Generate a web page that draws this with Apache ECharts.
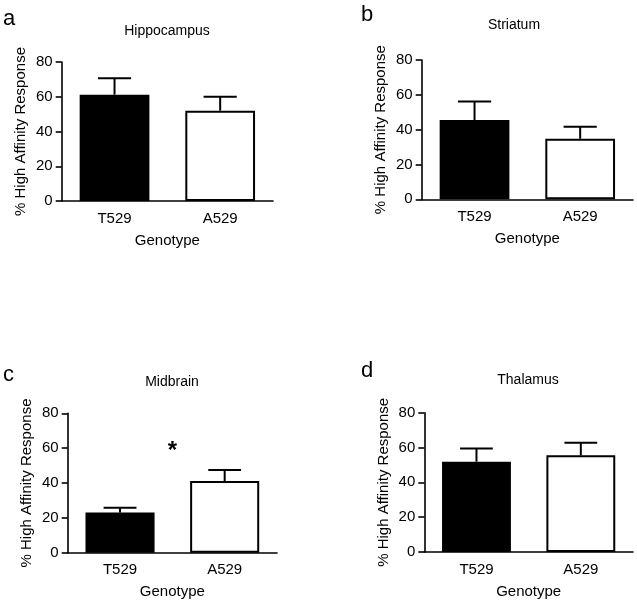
<!DOCTYPE html>
<html><head><meta charset="utf-8">
<script src="https://cdn.jsdelivr.net/npm/echarts@6/dist/echarts.min.js"></script>
<style>html,body{margin:0;padding:0;background:#fff}#c{width:637px;height:602px}</style>
</head><body><div id="c"></div>
<script>
const categories = ['T529', 'A529'];
const panelTitles = ['Hippocampus', 'Striatum', 'Midbrain', 'Thalamus'];
const panelLetters = ['a', 'b', 'c', 'd'];
const meanHippocampus = [61.2, 52.0];
const errHippocampus = [9.4, 8.0];
const meanStriatum = [45.5, 34.8];
const errStriatum = [10.6, 6.9];
const meanMidbrain = [23.0, 41.1];
const errMidbrain = [2.8, 6.4];
const meanThalamus = [51.9, 55.5];
const errThalamus = [7.6, 7.3];
const yMin = 0, yMax = 80, yInterval = 20;
const yAxisName = '% High Affinity Response';
const xAxisName = 'Genotype';
const significanceMark = '*';
const significancePanel = 2;
const significanceY = 58;

const means = [meanHippocampus, meanStriatum, meanMidbrain, meanThalamus];
const errs = [errHippocampus, errStriatum, errMidbrain, errThalamus];
const barColors = ['#000000', '#ffffff'];
const FONT = "'Liberation Sans', Arial, sans-serif";

// layout: left, top, width, height of each plotting area
const layout = [
  {left: 61.7, top: 62, width: 211.3, height: 139},
  {left: 421.7, top: 60, width: 211.3, height: 139.3},
  {left: 67.7, top: 413.3, width: 209.3, height: 139.4},
  {left: 424.3, top: 412.7, width: 208.7, height: 139.3}
];
const titlePos = [[167, 31], [514, 25], [172, 382], [528, 380]];
const letterPos = [[3, 19], [361, 15], [3, 375], [361, 371]];

const grids = [], xAxes = [], yAxes = [], series = [], graphics = [];
layout.forEach((g, i) => {
  grids.push({left: g.left, top: g.top, width: g.width, height: g.height, containLabel: false});
  xAxes.push({
    type: 'category', gridIndex: i, data: categories,
    axisLine: {lineStyle: {color: '#000', width: 1.6}},
    axisTick: {show: false},
    axisLabel: {color: '#000', fontSize: 15, fontFamily: FONT, margin: 10},
    name: xAxisName, nameLocation: 'middle', nameGap: 32,
    nameTextStyle: {color: '#000', fontSize: 15, fontFamily: FONT}
  });
  yAxes.push({
    type: 'value', gridIndex: i, min: yMin, max: yMax, interval: yInterval,
    splitLine: {show: false},
    axisLine: {show: true, lineStyle: {color: '#000', width: 1.6}},
    axisTick: {show: true, length: 6, lineStyle: {color: '#000', width: 1.6}},
    axisLabel: {color: '#000', fontSize: 15, fontFamily: FONT, margin: 9},
    name: yAxisName, nameLocation: 'middle', nameGap: 33, nameRotate: 90,
    nameTextStyle: {color: '#000', fontSize: 15, fontFamily: FONT}
  });
  series.push({
    type: 'bar', xAxisIndex: i, yAxisIndex: i, barWidth: '66%',
    data: means[i].map((v, k) => ({value: v, itemStyle: {color: barColors[k], borderColor: '#000', borderWidth: 2}})),
    silent: true, animation: false
  });
  series.push({
    type: 'custom', xAxisIndex: i, yAxisIndex: i, z: 5, animation: false, silent: true,
    data: means[i].map((v, k) => [k, v, errs[i][k]]),
    renderItem: function (params, api) {
      const x = api.value(0), v = api.value(1), e = api.value(2);
      const base = api.coord([x, v]);
      const top = api.coord([x, v + e]);
      const half = api.size([1, 0])[0] * 0.157;
      return {type: 'group', children: [
        {type: 'line', shape: {x1: base[0], y1: base[1], x2: top[0], y2: top[1]}, style: {stroke: '#000', lineWidth: 2}},
        {type: 'line', shape: {x1: top[0] - half, y1: top[1], x2: top[0] + half, y2: top[1]}, style: {stroke: '#000', lineWidth: 2}}
      ]};
    }
  });
  graphics.push({type: 'text', x: titlePos[i][0], y: titlePos[i][1],
    style: {text: panelTitles[i], font: '14px ' + FONT, fill: '#000', textAlign: 'center', textVerticalAlign: 'middle'}});
  graphics.push({type: 'text', x: letterPos[i][0], y: letterPos[i][1],
    style: {text: panelLetters[i], font: '22px ' + FONT, fill: '#000', textAlign: 'left', textVerticalAlign: 'middle'}});
});
// significance star, centred between the two categories of its panel
series.push({
  type: 'custom', xAxisIndex: significancePanel, yAxisIndex: significancePanel, z: 6, animation: false, silent: true,
  data: [[0, significanceY]],
  renderItem: function (params, api) {
    const a = api.coord([0, api.value(1)]);
    const b = api.coord([1, api.value(1)]);
    return {type: 'text', x: (a[0] + b[0]) / 2, y: a[1],
      style: {text: significanceMark, font: 'bold 24px ' + FONT, fill: '#000', textAlign: 'center', textVerticalAlign: 'middle'}};
  }
});

const chart = echarts.init(document.getElementById('c'), null, {renderer: 'canvas'});
chart.setOption({
  animation: false, backgroundColor: '#fff',
  grid: grids, xAxis: xAxes, yAxis: yAxes, series: series, graphic: graphics
});
</script></body></html>
